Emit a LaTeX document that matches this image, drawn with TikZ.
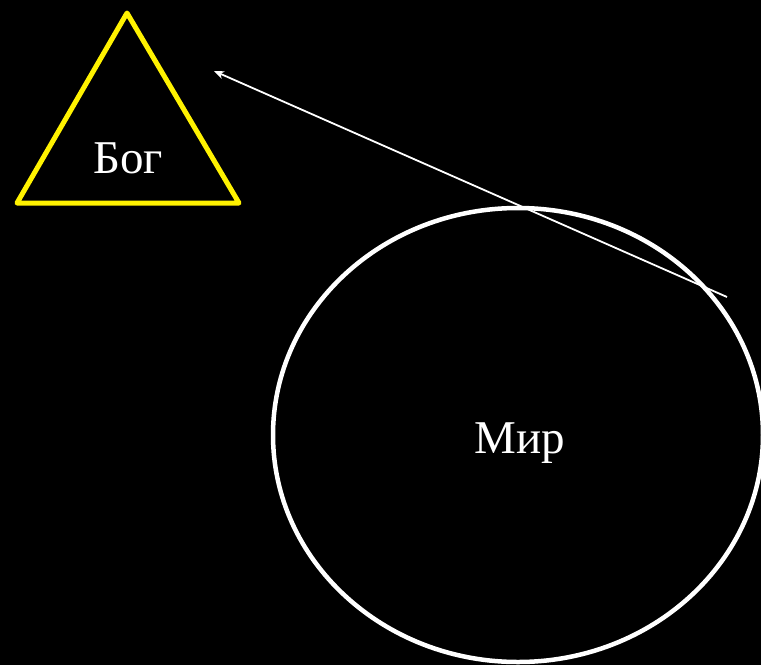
\documentclass[tikz,border=0pt]{standalone}
\usepackage{fontspec}
\usetikzlibrary{arrows.meta}
\setmainfont{Liberation Serif}
\begin{document}
\begin{tikzpicture}[x=1pt,y=-1pt,
  lbl/.style={text=white,font=\fontsize{47}{50}\selectfont,inner sep=0pt,anchor=base},
  conn/.style={white,line width=1.8pt,-{Stealth[length=10pt,width=8pt,inset=3pt]}}]
\fill[black] (0,0) rectangle (761,665);
\useasboundingbox (0,0) rectangle (761,665);
\coordinate (t1) at (127,13);
\coordinate (t2) at (17,203);
\coordinate (t3) at (239,203);
\draw[yellow,line width=5pt,line join=round] (t1) -- (t2) -- (t3) -- cycle;
\node[lbl] (bog) at (128,173) {Бог};
\draw[white,line width=4.5pt] (518,435) ellipse [x radius=245, y radius=227];
\node[lbl] (mir) at (520,453) {Мир};
\coordinate (a1) at (727,297);
\coordinate (a2) at (214,71);
\draw[conn] (a1) -- (a2);
\end{tikzpicture}
\end{document}
